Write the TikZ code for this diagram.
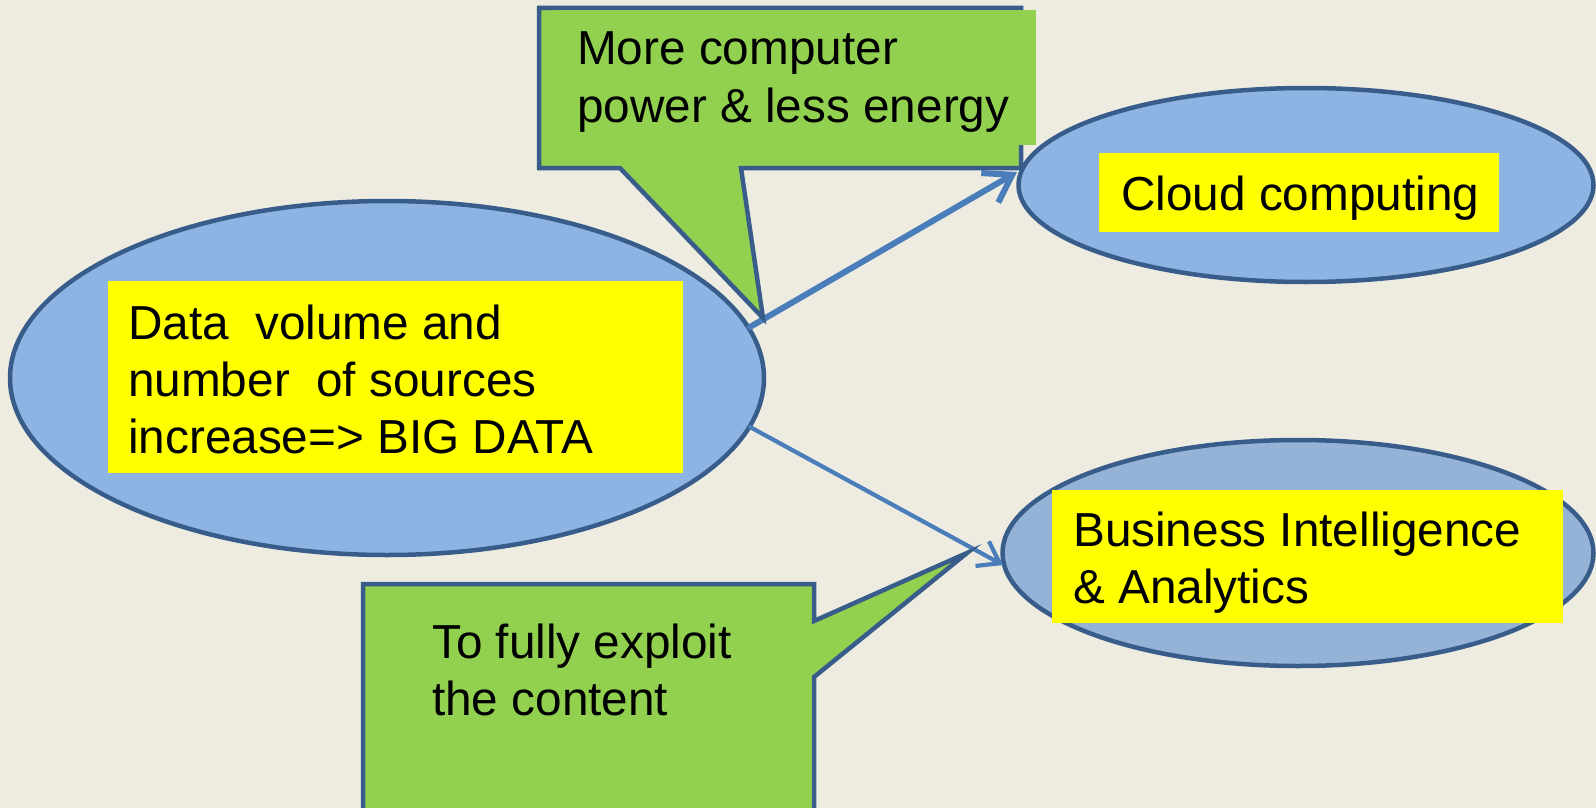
\documentclass[tikz,border=0pt]{standalone}
\usepackage{fontspec}
\setmainfont{Liberation Sans}
\usetikzlibrary{shapes.geometric,arrows.meta}
\definecolor{bgc}{HTML}{EEECE1}
\definecolor{ellfill}{HTML}{8EB4E3}
\definecolor{ellfillb}{HTML}{95B3D7}
\definecolor{outl}{HTML}{385D8A}
\definecolor{arrc}{HTML}{4A7EBB}
\definecolor{grn}{HTML}{92D050}
\definecolor{ylw}{HTML}{FFFF00}
\tikzset{
  ell/.style={ellipse, draw=outl, line width=4.5pt, inner sep=0pt},
  ybox/.style={rectangle, fill=ylw, inner sep=0pt, anchor=north west},
  gbox/.style={rectangle, fill=grn, inner sep=0pt, anchor=north west},
  callout/.style={fill=grn, draw=outl, line width=4.5pt, line join=miter},
  txt/.style={anchor=base west, inner sep=0pt, font=\fontsize{47.7}{57}\selectfont},
  conn/.style={draw=arrc, line cap=round},
}
\begin{document}
\begin{tikzpicture}[x=1pt,y=-1pt]
\useasboundingbox (0,0) rectangle (1596,808);
\clip (0,0) rectangle (1596,808);
\fill[bgc] (0,0) rectangle (1596,808);
% ellipses
\node[ell, fill=ellfill, minimum width=754pt, minimum height=354pt] (big) at (387,378) {};
\node[ell, fill=ellfill, minimum width=575pt, minimum height=194pt] (cloud) at (1306,185) {};
\node[ell, fill=ellfillb, minimum width=591pt, minimum height=226pt] (bi) at (1298,553) {};
% yellow boxes
\node[ybox, minimum width=575pt, minimum height=192pt] (dbox) at (108,281) {};
\node[ybox, minimum width=400pt, minimum height=79pt] (cbox) at (1099,153) {};
\node[ybox, minimum width=511pt, minimum height=133pt] (bbox) at (1052,490) {};
% connector anchors
\coordinate (a1s) at (750,327);
\coordinate (a1e) at (1017,172);
\coordinate (a2s) at (750,427);
\coordinate (a2e) at (1003,565);
% arrows
\draw[conn, line width=6pt, -{Straight Barb[length=26pt,width=34pt]}] (a1s) -- (a1e);
\draw[conn, line width=4.2pt, -{Straight Barb[length=20pt,width=28pt]}] (a2s) -- (a2e);
% callouts
\draw[callout] (539,8) -- (1021,8) -- (1021,168) -- (741,168) -- (763,318) -- (620,168) -- (539,168) -- cycle;
\node[gbox, minimum width=480pt, minimum height=135pt] (tgbox) at (556,10) {};
\draw[callout] (363,584) -- (814,584) -- (814,621) -- (967,553) -- (814,677) -- (814,830) -- (363,830) -- cycle;
% texts
\node[txt] (d1) at (128,339) {Data\ \ volume and};
\node[txt] (d2) at (128,396) {number\ \ of sources};
\node[txt] (d3) at (128,453) {increase=> BIG DATA};
\node[txt] (m1) at (577,65) {More computer};
\node[txt] (m2) at (577,122) {power \& less energy};
\node[txt] (c1) at (1121,210) {Cloud computing};
\node[txt] (b1) at (1073,546) {Business Intelligence};
\node[txt] (b2) at (1073,603) {\& Analytics};
\node[txt] (t1) at (432,658) {To fully exploit};
\node[txt] (t2) at (432,715) {the content};
\end{tikzpicture}
\end{document}
